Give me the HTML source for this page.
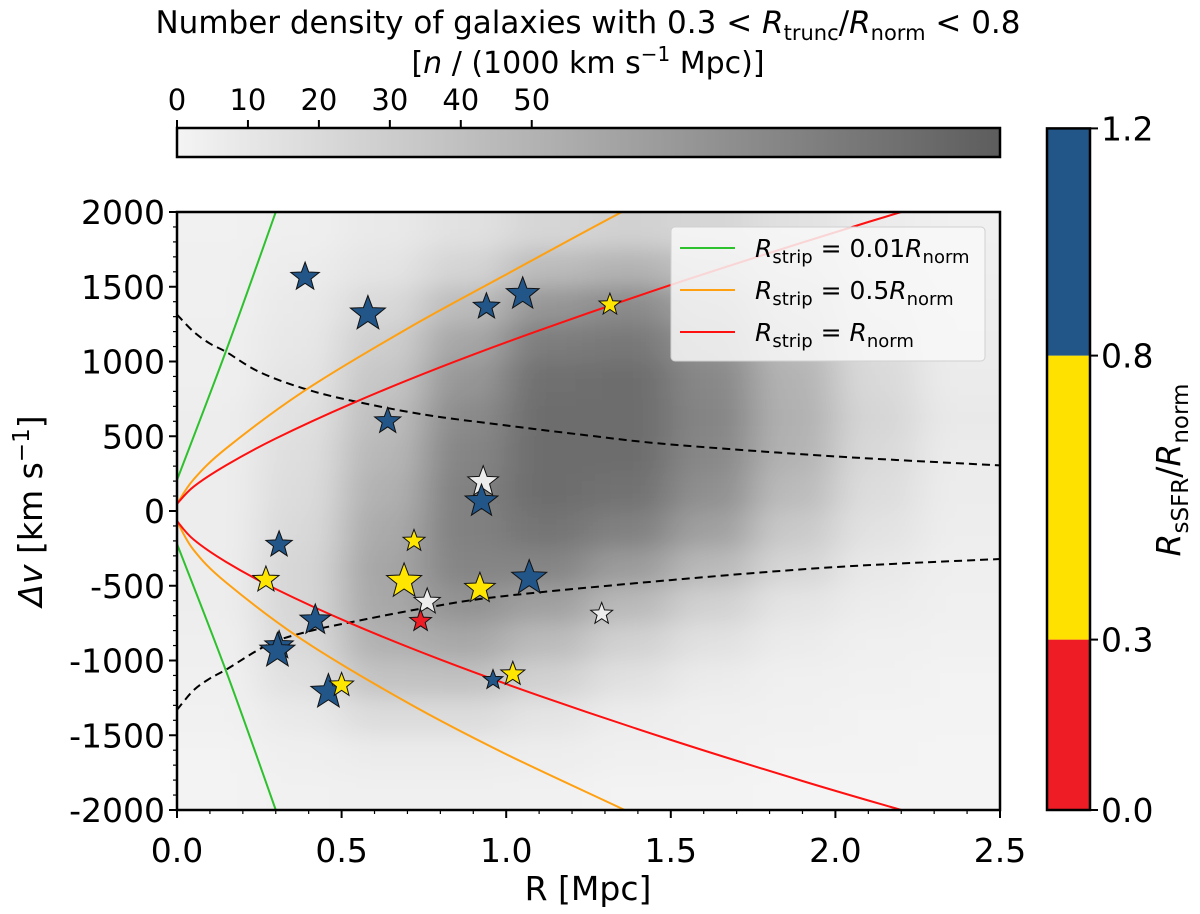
<!DOCTYPE html>
<html><head><meta charset="utf-8">
<style>
body{margin:0;background:#fff;}
svg{display:block;font-family:"DejaVu Sans","Liberation Sans",sans-serif;}
</style></head>
<body>
<svg id="chart" width="1200" height="914" viewBox="0 0 1200 914" xmlns="http://www.w3.org/2000/svg">
<defs>
<linearGradient id="gbar" x1="0" x2="1" y1="0" y2="0">
<stop offset="0" stop-color="#f4f4f4"/><stop offset="1" stop-color="#5d5d5d"/>
</linearGradient>
<clipPath id="plotclip"><rect x="177" y="212" width="823" height="598"/></clipPath>
<filter id="blur" x="-20%" y="-20%" width="140%" height="140%"><feGaussianBlur stdDeviation="20 11"/></filter>
</defs>
<g id="layer"></g>
</svg>
<script>
// ---- data ----
const densR = [0.125,0.375,0.625,0.875,1.125,1.375,1.625,1.875,2.125,2.375];
const densV = [1875,1625,1375,1125,875,625,375,125,-125,-375,-625,-875,-1125,-1375,-1625,-1875];
const density = [
[2,4,8,14,22,26,22,14,7,3],
[3,6,12,24,42,48,38,22,10,4],
[3,8,20,42,70,78,60,34,14,5],
[4,10,28,58,88,92,72,42,18,6],
[4,12,34,70,98,100,80,48,20,7],
[5,14,40,78,100,100,82,50,22,8],
[5,16,45,82,100,100,80,48,20,7],
[5,18,50,85,100,96,74,42,17,6],
[5,20,55,85,95,85,62,32,13,5],
[5,22,58,82,82,66,44,22,9,4],
[5,22,56,72,62,44,26,12,6,3],
[4,20,50,56,42,26,14,7,3,2],
[3,15,36,38,26,14,7,3,2,1],
[2,8,18,18,12,6,3,2,1,1],
[1,4,7,7,5,3,2,1,1,0],
[1,2,3,3,2,1,1,0,0,0]];
const redUpR = [0,0.05,0.15,0.3,0.53,0.8,1.1,1.5,1.9,2.2,2.5];
const redUpV = [47,162,307,485,718,962,1208,1512,1796,2000,2195];
const redLoR = [0,0.05,0.15,0.3,0.53,0.8,1.1,1.5,1.9,2.2,2.5];
const redLoV = [-67,-190,-342,-522,-754,-994,-1235,-1531,-1806,-2000,-2189];
const orUpR = [0,0.05,0.15,0.384,0.7,0.99,1.36,1.5];
const orUpV = [47,210,420,800,1220,1570,2010,2150];
const orLoR = [0,0.05,0.15,0.384,0.7,0.99,1.36,1.5];
const orLoV = [-67,-259,-480,-866,-1282,-1616,-2000,-2150];
const grUpR = [0,0.15,0.30,0.33];
const grUpV = [207,1077,2000,2200];
const grLoR = [0,0.15,0.30,0.33];
const grLoV = [-220,-1076,-2000,-2200];
const dashUpR = [0,0.05,0.1,0.15,0.25,0.384,0.526,0.75,0.99,1.25,1.5,2.0,2.5];
const dashUpV = [1314,1200,1120,1063,930,820,740,645,575,505,445,365,305];
const dashLoR = [0,0.05,0.1,0.15,0.28,0.4,0.526,0.75,0.99,1.5,2.0,2.5];
const dashLoV = [-1330,-1200,-1120,-1060,-890,-805,-745,-650,-570,-462,-375,-321];
const starR = [0.389,0.58,0.94,1.05,1.315,0.64,0.93,0.925,0.31,0.72,0.27,0.69,0.76,0.92,1.07,1.29,0.74,0.42,0.31,0.305,0.46,0.50,0.96,1.02];
const starV = [1565,1319,1367,1451,1380,601,195,65,-225,-200,-460,-470,-607,-518,-448,-688,-736,-730,-900,-936,-1211,-1164,-1130,-1090];
const starRatio = [1.0,1.0,1.0,1.0,0.5,1.0,-1,1.0,1.0,0.5,0.5,0.5,-1,0.5,1.0,-1,0.1,1.0,1.0,1.0,1.0,0.5,1.0,0.5];
const starSize = [13,16,12,15,10,12,14,15,12,10,12,16,12,14,16,10,10,14,13,16,16,11,9,11];
const xTicks = [0,0.5,1.0,1.5,2.0,2.5];
const xTickLabels = ["0.0","0.5","1.0","1.5","2.0","2.5"];
const yTicks = [2000,1500,1000,500,0,-500,-1000,-1500,-2000];
const yTickLabels = ["2000","1500","1000","500","0","-500","-1000","-1500","-2000"];
const cbTicks = [0,10,20,30,40,50];
const cbMax = 116;
const rcTicks = [0.0,0.3,0.8,1.2];
const rcTickLabels = ["0.0","0.3","0.8","1.2"];

// ---- scales ----
const X0=177,X1=1000,Y0=212,Y1=810;
const xs = r => X0 + r/2.5*(X1-X0);
const ys = v => Y0 + (2000-v)/4000*(Y1-Y0);
const NS="http://www.w3.org/2000/svg";
const layer=document.getElementById('layer');
function mk(tag,attrs,parent){const e=document.createElementNS(NS,tag);for(const k in attrs)e.setAttribute(k,attrs[k]);(parent||layer).appendChild(e);return e;}
function gray(v){const g=Math.round(244-v*1.35);return `rgb(${g},${g},${g})`;}

let bg=mk('rect',{x:X0,y:Y0,width:X1-X0,height:Y1-Y0,fill:'#f4f4f4'});



// heatmap
const hmClip=mk('g',{'clip-path':'url(#plotclip)'});


const hm=mk('g',{filter:'url(#blur)'},hmClip);
const cw=xs(0.25)-xs(0), ch=ys(0)-ys(250);
for(let i=0;i<densV.length;i++){for(let j=0;j<densR.length;j++){
  const ext = (j===0?-cw:0);
  const c=mk('rect',{x:xs(densR[j])-cw/2+ext,y:ys(densV[i])-ch/2-(i===0?ch:0),width:cw+1-ext+(j===densR.length-1?cw:0),height:ch+1+(i===0||i===densV.length-1?ch:0),fill:gray(density[i][j])},hm);
  
  
}}

// lines
const lines=mk('g',{'clip-path':'url(#plotclip)'});


function curve(R,V,color,name,dash){
  const P=R.map((r,i)=>[xs(r),ys(V[i])]);
  let d=`M${P[0][0]},${P[0][1]}`;
  for(let i=0;i<P.length-1;i++){
    const p0=P[Math.max(0,i-1)],p1=P[i],p2=P[i+1],p3=P[Math.min(P.length-1,i+2)];
    const c1=[p1[0]+(p2[0]-p0[0])/6,p1[1]+(p2[1]-p0[1])/6];
    const c2=[p2[0]-(p3[0]-p1[0])/6,p2[1]-(p3[1]-p1[1])/6];
    d+=` C${c1[0]},${c1[1]} ${c2[0]},${c2[1]} ${p2[0]},${p2[1]}`;
  }
  const a={d:d,fill:'none',stroke:color,'stroke-width':2};
  if(dash){a['stroke-dasharray']='8,5';}
  const p=mk('path',a,lines);
  
  
}
curve(dashUpR,dashUpV,'#000','escape-velocity-upper',true);
curve(dashLoR,dashLoV,'#000','escape-velocity-lower',true);
curve(grUpR,grUpV,'#2ec12e','strip-0.01-upper');
curve(grLoR,grLoV,'#2ec12e','strip-0.01-lower');
curve(orUpR,orUpV,'#ffa010','strip-0.5-upper');
curve(orLoR,orLoV,'#ffa010','strip-0.5-lower');
curve(redUpR,redUpV,'#ff1010','strip-1.0-upper');
curve(redLoR,redLoV,'#ff1010','strip-1.0-lower');

// stars
function starPts(cx,cy,r){let s=[];for(let k=0;k<10;k++){const a=-Math.PI/2+k*Math.PI/5;const rr=k%2?r*0.42:r;s.push((cx+rr*Math.cos(a)).toFixed(1)+','+(cy+rr*Math.sin(a)).toFixed(1));}return s.join(' ');}
function starColor(v){if(v<0)return '#ececec';if(v<0.3)return '#ee1c25';if(v<0.8)return '#ffe600';return '#225689';}
const stars=mk('g',{});


for(let i=0;i<starR.length;i++){
  const s=mk('polygon',{points:starPts(xs(starR[i]),ys(starV[i]),starSize[i]*1.15),fill:starColor(starRatio[i]),stroke:'#111','stroke-width':1},stars);
  
  
}

let fr=mk('rect',{x:X0,y:Y0,width:X1-X0,height:Y1-Y0,fill:'none',stroke:'#000','stroke-width':2.5});



// x axis
const xax=mk('g',{});


for(let k=0;k<=25;k++){const r=k/10;const maj=k%5===0;mk('line',{x1:xs(r),x2:xs(r),y1:Y1,y2:Y1+(maj?8:4),stroke:'#000','stroke-width':maj?2:1.2},xax);}
xTicks.forEach((t,i)=>{const tx=mk('text',{x:xs(t),y:862,'font-size':33,'text-anchor':'middle'},xax);tx.textContent=xTickLabels[i];
 
 });
let xt=mk('text',{x:588,y:900,'font-size':33,'text-anchor':'middle'});xt.textContent='R [Mpc]';



// y axis
const yax=mk('g',{});


for(let v=-2000;v<=2000;v+=100){const maj=v%500===0;mk('line',{x1:X0,x2:X0-(maj?8:4),y1:ys(v),y2:ys(v),stroke:'#000','stroke-width':maj?2:1.2},yax);}
yTicks.forEach((t,i)=>{const tx=mk('text',{x:X0-12,y:ys(t)+12,'font-size':33,'text-anchor':'end'},yax);tx.textContent=yTickLabels[i];
 
 });
let yt=mk('text',{transform:'translate(42,511) rotate(-90)','font-size':33,'text-anchor':'middle'});
yt.innerHTML='<tspan font-style="italic">Δv</tspan> [km s<tspan dy="-13" font-size="23">−1</tspan><tspan dy="13">]</tspan>';



// top colorbar
const CB0=177,CB1=1000;
const cbx=v=>CB0+v/cbMax*(CB1-CB0);
let cb=mk('rect',{x:CB0,y:128,width:CB1-CB0,height:29,fill:'url(#gbar)',stroke:'#000','stroke-width':2.5});


cbTicks.forEach(t=>{mk('line',{x1:cbx(t),x2:cbx(t),y1:128,y2:120,stroke:'#000','stroke-width':2});
 const tx=mk('text',{x:cbx(t),y:110,'font-size':29,'text-anchor':'middle'});tx.textContent=String(t);
 
 });
let t1=mk('text',{x:588,y:33,'font-size':31,'text-anchor':'middle'});
t1.innerHTML='Number density of galaxies with 0.3 &lt; <tspan font-style="italic">R</tspan><tspan dy="7" font-size="21">trunc</tspan><tspan dy="-7">/</tspan><tspan font-style="italic">R</tspan><tspan dy="7" font-size="21">norm</tspan><tspan dy="-7"> &lt; 0.8</tspan>';


let t2=mk('text',{x:588,y:73,'font-size':30,'text-anchor':'middle'});
t2.innerHTML='[<tspan font-style="italic">n</tspan> / (1000 km s<tspan dy="-12" font-size="20">−1</tspan><tspan dy="12"> Mpc)]</tspan>';



// right colorbar
const rcy=v=>810-v*568;
const rcg=mk('g',{});


mk('rect',{x:1047,y:rcy(0.3),width:43,height:rcy(0)-rcy(0.3),fill:'#ee1c25'},rcg);
mk('rect',{x:1047,y:rcy(0.8),width:43,height:rcy(0.3)-rcy(0.8),fill:'#ffe100'},rcg);
mk('rect',{x:1047,y:rcy(1.2),width:43,height:rcy(0.8)-rcy(1.2),fill:'#225689'},rcg);
mk('rect',{x:1047,y:rcy(1.2),width:43,height:rcy(0)-rcy(1.2),fill:'none',stroke:'#000','stroke-width':2.5},rcg);
rcTicks.forEach((t,i)=>{mk('line',{x1:1090,x2:1098,y1:rcy(t),y2:rcy(t),stroke:'#000','stroke-width':2},rcg);
 const tx=mk('text',{x:1101,y:rcy(t)+12,'font-size':33},rcg);tx.textContent=rcTickLabels[i];
 
 });
let rt=mk('text',{transform:'translate(1180,470) rotate(-90)','font-size':33,'text-anchor':'middle'});
rt.innerHTML='<tspan font-style="italic">R</tspan><tspan dy="8" font-size="23">sSFR</tspan><tspan dy="-8">/</tspan><tspan font-style="italic">R</tspan><tspan dy="8" font-size="23">norm</tspan>';



// legend
const lg=mk('g',{});


mk('rect',{x:671,y:227,width:314,height:134,rx:4,fill:'#f8f8f8','fill-opacity':0.85,stroke:'#d0d0d0','stroke-width':1},lg);
const legC=['#2ec12e','#ffa010','#ff1010'];
const legT=['0.01','0.5',''];
legC.forEach((c,i)=>{const y=248+i*42;
 const ln=mk('line',{x1:680,x2:735,y1:y,y2:y,stroke:c,'stroke-width':2},lg);
 
 
 const tx=mk('text',{x:755,y:y+9,'font-size':25},lg);
 tx.innerHTML='<tspan font-style="italic">R</tspan><tspan dy="6" font-size="18">strip</tspan><tspan dy="-6"> = '+legT[i]+'</tspan><tspan font-style="italic">R</tspan><tspan dy="6" font-size="18">norm</tspan>';
 
 
});
</script>
</body></html>
